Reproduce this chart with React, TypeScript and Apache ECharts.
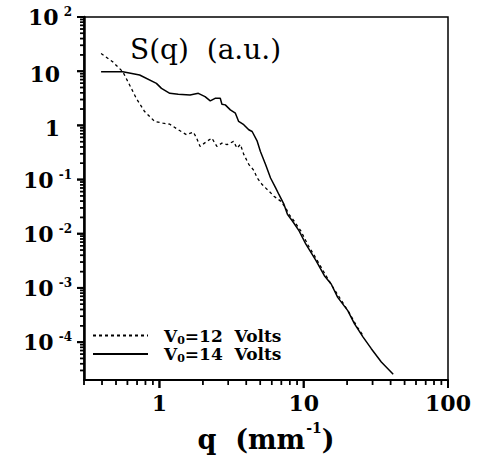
import React, { useEffect, useRef } from "react";
import * as echarts from "echarts";

// ---- data ----
const qSolid = [0.394, 0.557, 0.729, 0.953, 1.033, 1.18, 1.35, 1.63, 1.86, 2.07, 2.25, 2.43, 2.64, 2.71, 2.86, 3.10, 3.36, 3.54, 3.84, 4.16, 4.39, 4.76, 5.01, 5.44, 5.89, 6.39, 6.73, 7.30, 7.71, 8.35, 9.29, 10.35, 12.2, 13.9, 15.5, 17.2, 20.2, 22.5, 25.8, 29.4, 34.5, 41.7];
const sSolid = [9.8, 9.8, 8.5, 5.96, 4.82, 3.90, 3.74, 3.65, 3.90, 3.40, 2.83, 3.16, 3.16, 2.45, 2.39, 1.93, 1.68, 1.18, 1.03, 0.83, 0.77, 0.51, 0.33, 0.189, 0.107, 0.0703, 0.0531, 0.0348, 0.0228, 0.0172, 0.0113, 0.00641, 0.00316, 0.00168, 0.00118, 0.00067, 0.000382, 0.000218, 0.000124, 0.0000757, 0.000043, 0.0000255];

const qDashed = [0.394, 0.474, 0.557, 0.621, 0.691, 0.789, 0.856, 0.927, 1.06, 1.18, 1.35, 1.54, 1.72, 1.81, 1.91, 2.13, 2.31, 2.50, 2.71, 2.94, 3.26, 3.45, 3.64, 3.84, 4.16, 4.51, 4.76, 5.15, 5.44, 5.73, 6.21, 6.92, 7.50, 7.91, 8.57, 9.55, 10.7, 12.3, 14.0, 15.7, 18.2, 20.6, 23.5, 25.5];
const sDashed = [21.2, 14.9, 9.8, 5.57, 3.16, 1.80, 1.46, 1.18, 1.10, 1.05, 0.83, 0.672, 0.75, 0.582, 0.41, 0.506, 0.582, 0.41, 0.471, 0.44, 0.506, 0.381, 0.446, 0.292, 0.191, 0.148, 0.107, 0.081, 0.0703, 0.0616, 0.0494, 0.040, 0.0302, 0.0228, 0.0172, 0.0113, 0.0062, 0.00335, 0.00183, 0.0011, 0.00059, 0.000355, 0.00019, 0.000138];

const seriesNames = ["V0=12 Volts", "V0=14 Volts"];
const legendLabels = ["{v0|V}{sub|0}{v|=12  Volts}", "{v0|V}{sub|0}{v|=14  Volts}"];

const xMajorTicks = [1, 10, 100];
const xTickLabels = ["1", "10", "100"];
const xMinorTicks = [0.3, 0.4, 0.5, 0.6, 0.7, 0.8, 0.9, 2, 3, 4, 5, 6, 7, 8, 9, 20, 30, 40, 50, 60, 70, 80, 90];

const yMajorTicks = [1e-4, 1e-3, 1e-2, 1e-1, 1, 10, 100];
const yTickLabels = ["{b|10}{s|-4}", "{b|10}{s|-3}", "{b|10}{s|-2}", "{b|10}{s|-1}", "{p|1}", "{p|10}", "{b|10}{s|2}"];
const yMinorTicks = [3e-5, 4e-5, 5e-5, 6e-5, 7e-5, 8e-5, 9e-5,
  2e-4, 3e-4, 4e-4, 5e-4, 6e-4, 7e-4, 8e-4, 9e-4,
  2e-3, 3e-3, 4e-3, 5e-3, 6e-3, 7e-3, 8e-3, 9e-3,
  2e-2, 3e-2, 4e-2, 5e-2, 6e-2, 7e-2, 8e-2, 9e-2,
  0.2, 0.3, 0.4, 0.5, 0.6, 0.7, 0.8, 0.9,
  2, 3, 4, 5, 6, 7, 8, 9,
  20, 30, 40, 50, 60, 70, 80, 90];

const X_MIN = 0.3, X_MAX = 100, Y_MIN = 2e-5, Y_MAX = 100;
const FONT = "DejaVu Serif";

export default function App() {
  const ref = useRef<HTMLDivElement>(null);
  useEffect(() => {
    if (!ref.current) return;
    const chart = echarts.init(ref.current, null, { renderer: "svg" });
    const nearIdx = (arr: number[], v: number) => {
      let best = 0;
      arr.forEach((a, i) => { if (Math.abs(Math.log10(a) - Math.log10(v)) < Math.abs(Math.log10(arr[best]) - Math.log10(v))) best = i; });
      return best;
    };
    // tick marks: small rect symbols placed through the axes' own log scales
    const tickSeries = (name: string, data: number[][], size: number[], offset: number[]) => ({
      name,
      type: "scatter",
      clip: false,
      silent: true,
      symbol: "rect",
      symbolSize: size,
      symbolOffset: offset,
      itemStyle: { color: "#000" },
      data,
    });
    const tickPoints = (vals: number[], toCoord: (v: number) => number[], size: number[], offset: number[]) =>
      vals.map((v) => ({ coord: toCoord(v), symbolSize: size, symbolOffset: offset }));

    const option: any = {
      animation: false,
      grid: { left: 84, top: 15, right: 31, bottom: 78, show: true, borderColor: "#000", borderWidth: 1.5, backgroundColor: "transparent" },
      xAxis: {
        type: "log", min: X_MIN, max: X_MAX,
        name: "{t|q  (mm}{s|-1}{t|)}",
        nameLocation: "middle",
        nameGap: 41,
        nameTextStyle: {
          rich: {
            t: { fontFamily: FONT, fontSize: 27, fontWeight: "bold", color: "#000", lineHeight: 30, padding: [6, 0, 0, 0] },
            s: { fontFamily: FONT, fontSize: 14, fontWeight: "bold", color: "#000", lineHeight: 14, verticalAlign: "top", padding: [0, 0, 0, 1] },
          },
        },
        axisLine: { show: true, lineStyle: { color: "#000", width: 2 } },
        axisTick: { show: false },
        axisLabel: {
          show: true, margin: 12, customValues: xMajorTicks,
          fontFamily: FONT, fontSize: 22, fontWeight: "bold", color: "#000",
          formatter: (v: number) => xTickLabels[nearIdx(xMajorTicks, v)],
        },
        splitLine: { show: false },
      },
      yAxis: {
        type: "log", min: Y_MIN, max: Y_MAX,
        axisLine: { show: true, lineStyle: { color: "#000", width: 2.5 } },
        axisTick: { show: false },
        axisLabel: {
          show: true, margin: 12, customValues: yMajorTicks,
          formatter: (v: number) => yTickLabels[nearIdx(yMajorTicks, v)],
          rich: {
            b: { fontFamily: FONT, fontSize: 22, fontWeight: "bold", color: "#000", lineHeight: 22, padding: [6, 0, 0, 0], verticalAlign: "bottom" },
            s: { fontFamily: FONT, fontSize: 12, fontWeight: "bold", color: "#000", lineHeight: 11, verticalAlign: "top", padding: [0, 0, 0, 5] },
            p: { fontFamily: FONT, fontSize: 22, fontWeight: "bold", color: "#000", lineHeight: 22, padding: [6, 12, 0, 0] },
          },
        },
        splitLine: { show: false },
      },
      legend: {
        orient: "vertical",
        left: 87,
        top: 322,
        itemWidth: 55,
        itemHeight: 12,
        itemGap: 0,
        data: seriesNames,
        itemStyle: { opacity: 0 },
        formatter: (name: string) => legendLabels[seriesNames.indexOf(name)],
        textStyle: {
          rich: {
            v0: { fontFamily: FONT, fontSize: 17, fontWeight: "bold", color: "#000", lineHeight: 20, padding: [0, 0, 0, 11] },
            v: { fontFamily: FONT, fontSize: 17, fontWeight: "bold", color: "#000", lineHeight: 20 },
            sub: { fontFamily: FONT, fontSize: 11, fontWeight: "bold", color: "#000", lineHeight: 16, verticalAlign: "bottom" },
          },
        },
      },
      series: [
        {
          name: seriesNames[0],
          type: "line",
          symbol: "none",
          data: qDashed.map((q, i) => [q, sDashed[i]]),
          lineStyle: { color: "#000", width: 1.3, type: [3, 3] },
          itemStyle: { color: "#000" },
        },
        {
          name: seriesNames[1],
          type: "line",
          symbol: "none",
          data: qSolid.map((q, i) => [q, sSolid[i]]),
          lineStyle: { color: "#000", width: 1.5, type: "solid" },
          itemStyle: { color: "#000" },
          markPoint: {
            symbol: "rect",
            silent: true,
            label: { show: false },
            itemStyle: { color: "#000" },
            data: [
              ...tickPoints(xMajorTicks, (v) => [v, Y_MIN], [2, 8], [0, 4]),
              ...tickPoints(xMinorTicks, (v) => [v, Y_MIN], [1.5, 5], [0, 2.5]),
              ...tickPoints(yMajorTicks, (v) => [X_MIN, v], [7, 2], [-3.5, 0]),
              ...tickPoints(yMinorTicks, (v) => [X_MIN, v], [4, 1.5], [-2, 0]),
            ],
          },
        },
        tickSeries("xMajorTicks", xMajorTicks.map((v) => [v, Y_MIN]), [2, 8], [0, 4]),
        tickSeries("xMinorTicks", xMinorTicks.map((v) => [v, Y_MIN]), [1.5, 5], [0, 2.5]),
        tickSeries("yMajorTicks", yMajorTicks.map((v) => [X_MIN, v]), [7, 2], [-3.5, 0]),
        tickSeries("yMinorTicks", yMinorTicks.map((v) => [X_MIN, v]), [4, 1.5], [-2, 0]),
      ],
    };
    chart.setOption(option);
    chart.setOption({
      graphic: [
        {
          type: "text",
          left: 130,
          top: 35,
          style: { text: "S(q)  (a.u.)", fontFamily: FONT, fontSize: 28, fill: "#000" },
        },
      ],
    });
    return () => chart.dispose();
  }, []);
  return <div ref={ref} style={{ position: "fixed", left: 0, top: 0, width: 479, height: 458, background: "#fff" }} />;
}
